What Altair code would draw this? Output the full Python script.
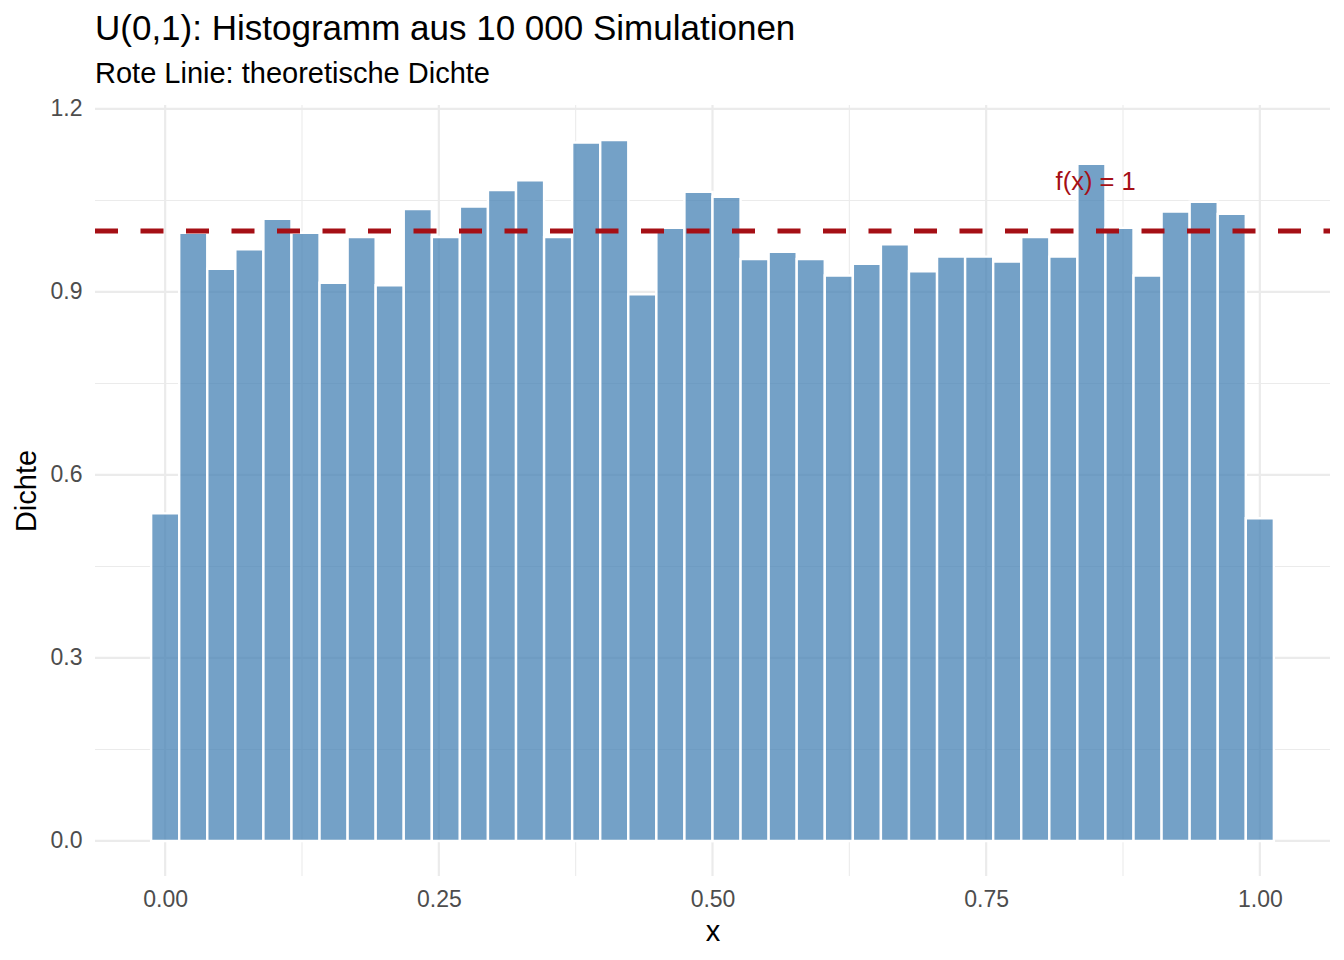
import altair as alt
import pandas as pd

# Histogram of 10 000 U(0,1) draws, 40 bins (centres at k/39)
n_bins = 40
binwidth = 1 / 39
bin_centers = [k / 39 for k in range(n_bins)]
density = [
    0.537, 0.997, 0.938, 0.970, 1.020, 0.997, 0.915, 0.990, 0.911, 1.036,
    0.990, 1.040, 1.067, 1.083, 0.990, 1.145, 1.149, 0.896, 1.005, 1.064,
    1.056, 0.954, 0.966, 0.954, 0.927, 0.946, 0.978, 0.934, 0.958, 0.958,
    0.950, 0.990, 0.958, 1.110, 1.005, 0.927, 1.032, 1.048, 1.028, 0.529,
]

x_ticks = [0.0, 0.25, 0.5, 0.75, 1.0]
x_minor = [0.125, 0.375, 0.625, 0.875]
y_ticks = [0.0, 0.3, 0.6, 0.9, 1.2]
y_minor = [0.15, 0.45, 0.75, 1.05]

theo_density = 1.0
label_x, label_y, label_text = 0.85, 1.08, "f(x) = 1"

W, H = 1235, 771
FONT = "Liberation Sans"
RED = "#A50F15"
GRID = "#EBEBEB"

x_dom = [-0.0641, 1.0641]
y_dom = [-0.0575, 1.2065]
xs = alt.Scale(domain=x_dom, nice=False, zero=False)
ys = alt.Scale(domain=y_dom, nice=False, zero=False)

x_axis = alt.Axis(values=x_ticks, format=".2f", grid=False, ticks=False,
                  domain=False, labelPadding=12, titlePadding=6)
y_axis = alt.Axis(values=y_ticks, format=".1f", grid=False, ticks=False,
                  domain=False, labelPadding=13, titlePadding=9)


def X(field):
    return alt.X(field, scale=xs, axis=x_axis, title="x")


def Y(field):
    return alt.Y(field, scale=ys, axis=y_axis, title="Dichte")


hist = pd.DataFrame({"mid": bin_centers, "dens": density})

ygrid_major = alt.Chart(pd.DataFrame({"v": y_ticks})).mark_rule(
    color=GRID, strokeWidth=2.2
).encode(y=Y("v:Q"), x=alt.value(0), x2=alt.value(W))
ygrid_minor = alt.Chart(pd.DataFrame({"v": y_minor})).mark_rule(
    color=GRID, strokeWidth=1.1
).encode(y=Y("v:Q"), x=alt.value(0), x2=alt.value(W))
xgrid_major = alt.Chart(pd.DataFrame({"v": x_ticks})).mark_rule(
    color=GRID, strokeWidth=2.2
).encode(x=X("v:Q"), y=alt.value(0), y2=alt.value(H))
xgrid_minor = alt.Chart(pd.DataFrame({"v": x_minor})).mark_rule(
    color=GRID, strokeWidth=1.1
).encode(x=X("v:Q"), y=alt.value(0), y2=alt.value(H))

bars = alt.Chart(hist).transform_calculate(
    x0=f"datum.mid - {binwidth / 2}",
    x1=f"datum.mid + {binwidth / 2}",
    zero="0",
).mark_rect(
    fill="steelblue", fillOpacity=0.75, stroke="white", strokeWidth=2.4
).encode(
    x=X("x0:Q"),
    x2="x1:Q",
    y=Y("zero:Q"),
    y2="dens:Q",
)

hline = alt.Chart(pd.DataFrame({"v": [theo_density]})).mark_rule(
    color=RED, strokeWidth=5, strokeDash=[23, 22.5]
).encode(y=Y("v:Q"), x=alt.value(0), x2=alt.value(W))

label = alt.Chart(pd.DataFrame({"x": [label_x], "y": [label_y], "t": [label_text]})).mark_text(
    color=RED, fontSize=25.5, font=FONT, align="center", baseline="middle"
).encode(x=X("x:Q"), y=Y("y:Q"), text="t:N")

chart = alt.layer(
    ygrid_minor, ygrid_major, xgrid_minor, xgrid_major, bars, hline, label
).properties(
    width=W,
    height=H,
    autosize="none",
    padding={"left": 87, "top": 97, "right": 6, "bottom": 76},
    background="white",
    title=alt.TitleParams(
        text="U(0,1): Histogramm aus 10 000 Simulationen",
        subtitle="Rote Linie: theoretische Dichte",
        anchor="start", frame="group",
        font=FONT, fontSize=35, fontWeight="normal", color="black",
        subtitleFont=FONT, subtitleFontSize=29, subtitleColor="black",
        subtitlePadding=13, offset=9,
    ),
).configure_view(stroke=None).configure_axis(
    labelFont=FONT, labelFontSize=23, labelColor="#4D4D4D",
    titleFont=FONT, titleFontSize=29, titleColor="black", titleFontWeight="normal",
)

chart.save("out.html", embed_options={"renderer": "svg", "actions": False})
